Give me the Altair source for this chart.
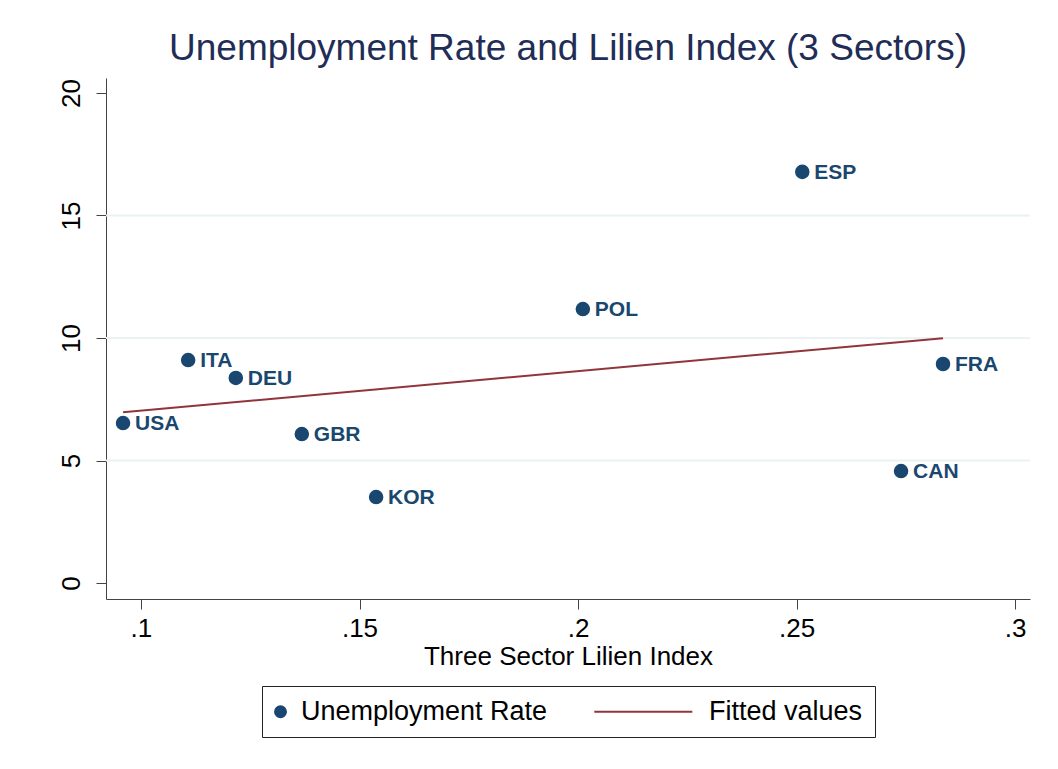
import altair as alt
import pandas as pd

countries = ["USA", "ITA", "DEU", "GBR", "KOR", "POL", "ESP", "FRA", "CAN"]
lilien = [0.0959, 0.1108, 0.1217, 0.1368, 0.1538, 0.2011, 0.2513, 0.2835, 0.2739]
unemp = [6.53, 9.10, 8.37, 6.08, 3.51, 11.18, 16.78, 8.94, 4.57]
x_ticks = [0.1, 0.15, 0.2, 0.25, 0.3]
y_ticks = [0, 5, 10, 15, 20]
grid_levels = [5, 10, 15]
series_names = ["Unemployment Rate", "Fitted values"]

NAVY = "#1a476f"
MAROON = "#90353b"
FONT = "Liberation Sans"

df = pd.DataFrame({"country": countries, "lilien": lilien, "unemp": unemp,
                   "series": series_names[0]})
grid_df = pd.DataFrame({"g": grid_levels})

xscale = alt.Scale(domain=[0.092, 0.3034], nice=False, zero=False)
yscale = alt.Scale(domain=[-0.65, 20.61], nice=False, zero=False)

color_scale = alt.Scale(domain=series_names, range=[NAVY, MAROON])
shape_scale = alt.Scale(domain=series_names, range=["circle", "M -17.2 0 L 0.7 0"])

legend = alt.Legend(
    orient="none", legendX=156, legendY=608,
    direction="horizontal", title=None,
    labelFontSize=27, labelFont=FONT, labelColor="#000",
    symbolSize=120, symbolStrokeWidth=2, labelOffset=7, symbolOffset=-7,
    columnPadding=42, padding=12, strokeColor="#222",
    labelLimit=400, symbolOpacity=1,
)

x_axis = alt.Axis(values=x_ticks, title="Three Sector Lilien Index",
                  labelExpr="substring(format(datum.value, '.2~f'), 1)",
                  grid=False, tickSize=10, labelPadding=6, titlePadding=2,
                  labelFontSize=26, titleFontSize=26, labelColor="#000", titleColor="#000",
                  titleFontWeight="normal", labelFont=FONT, titleFont=FONT,
                  domainColor="#444", tickColor="#444", labelFlush=False)
y_axis = alt.Axis(values=y_ticks, title=None, grid=False, tickSize=10,
                  labelAngle=270, labelAlign="center", labelBaseline="bottom",
                  labelPadding=12, labelFontSize=26, labelColor="#000", labelFont=FONT,
                  domainColor="#444", tickColor="#444", labelFlush=False)

grid = alt.Chart(grid_df).mark_rule(color="#eaf2f3", strokeWidth=2).encode(
    y=alt.Y("g:Q", scale=yscale, axis=y_axis),
    x=alt.value(0), x2=alt.value(924),
)

points = alt.Chart(df).mark_point(filled=True, size=170, opacity=1, strokeWidth=1.5).encode(
    x=alt.X("lilien:Q", scale=xscale, axis=x_axis),
    y=alt.Y("unemp:Q", scale=yscale, axis=y_axis),
    fill=alt.Fill("series:N", scale=color_scale, legend=legend),
    stroke=alt.Stroke("series:N", scale=color_scale, legend=legend),
    shape=alt.Shape("series:N", scale=shape_scale, legend=legend),
)

labels = alt.Chart(df).mark_text(align="left", baseline="middle", dx=12, dy=1,
                                 fontSize=21, fontWeight="bold", font=FONT,
                                 color=NAVY).encode(
    x=alt.X("lilien:Q", scale=xscale),
    y=alt.Y("unemp:Q", scale=yscale),
    text="country:N",
)

fit = alt.Chart(df).transform_regression("lilien", "unemp").transform_calculate(
    series="'Fitted values'"
).mark_line(strokeWidth=2).encode(
    x=alt.X("lilien:Q", scale=xscale),
    y=alt.Y("unemp:Q", scale=yscale),
    stroke=alt.Stroke("series:N", scale=color_scale, legend=legend),
)

chart = alt.layer(grid, fit, points, labels).properties(
    width=924, height=521,
    background="white",
    title=alt.TitleParams("Unemployment Rate and Lilien Index (3 Sectors)",
                          fontSize=37, font=FONT, fontWeight="normal",
                          color="#1f2d57", anchor="middle", offset=10),
    padding={"left": 106, "top": 78, "right": 28, "bottom": 170},
    autosize=alt.AutoSizeParams(type="none"),
).configure_view(stroke="transparent", strokeWidth=0)

chart.save("out.html", embed_options={"renderer": "svg", "actions": False})
